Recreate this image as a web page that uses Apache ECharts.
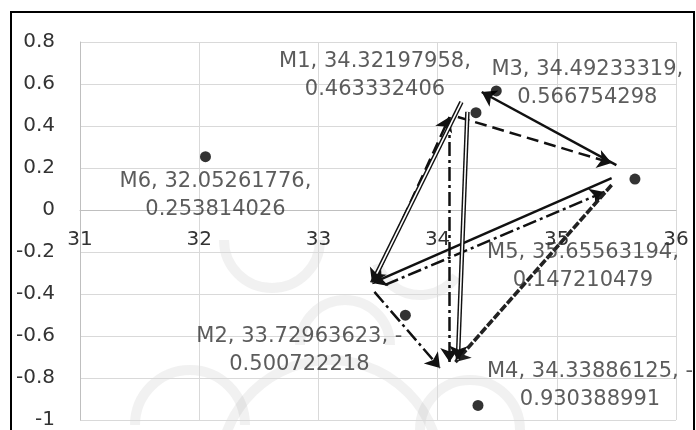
<!DOCTYPE html>
<html><head><meta charset="utf-8">
<script src="https://cdn.jsdelivr.net/npm/echarts@6/dist/echarts.min.js"></script>
<style>html,body{margin:0;padding:0;background:#fff}#c{width:696px;height:430px}</style>
</head><body><div id="c"></div>
<script>
// ---- data ----
const pointNames = ['M1', 'M2', 'M3', 'M4', 'M5', 'M6'];
const xValues = [34.32197958, 33.72963623, 34.49233319, 34.33886125, 35.65563194, 32.05261776];
const yValues = [0.463332406, -0.500722218, 0.566754298, -0.930388991, 0.147210479, 0.253814026];
const xTicks = [31, 32, 33, 34, 35, 36];
const yTicks = [-1, -0.8, -0.6, -0.4, -0.2, 0, 0.2, 0.4, 0.6, 0.8];

// arrows drawn over the chart (start -> end, in data units)
const solidArrows = [
  [[35.50, 0.214], [34.37, 0.562]],
  [[35.46, 0.152], [33.45, -0.348]]
];
const dashedArrows = [
  [[34.17, 0.443], [35.46, 0.224]],
  [[33.52, -0.276], [34.10, 0.443]]
];
const dashDotArrows = [
  [[34.10, 0.443], [34.10, -0.724]],
  [[33.56, -0.357], [35.40, 0.086]],
  [[33.47, -0.390], [34.02, -0.752]]
];
const doubleArrows = [
  [[34.20, 0.514], [33.45, -0.348]],
  [[34.25, 0.467], [34.17, -0.714]]
];
const thickArrows = [
  [[35.46, 0.119], [34.15, -0.724]]
];

// ---- layout / style ----
const FONT = 'DejaVu Sans';
const TXT = '#333333';
const labelOffsets = [[-101, -37], [-106, 35], [91, -7], [112, -20], [-52, 87], [10, 39]];

function labelText(i) {
  const y = yValues[i];
  return y < 0
    ? pointNames[i] + ', ' + xValues[i] + ', -\n' + (-y)
    : pointNames[i] + ', ' + xValues[i] + ',\n' + y;
}

function linesSeries(links, lineStyle, arrow) {
  return {
    type: 'lines', coordinateSystem: 'cartesian2d', silent: true, animation: false,
    symbol: arrow ? ['none', 'arrow'] : 'none', symbolSize: 14,
    lineStyle: Object.assign({ opacity: 1, curveness: 0 }, lineStyle),
    data: links.map(l => ({ coords: l })), z: 3
  };
}

// faint background watermark (decorative arcs)
const WM = { stroke: 'rgba(120,120,120,0.10)', lineWidth: 10, fill: 'none' };
function wmArc(cx, cy, r, a0, a1) {
  return { type: 'arc', silent: true, z: -10, shape: { cx: cx, cy: cy, r: r, startAngle: a0, endAngle: a1 }, style: WM };
}
const PI = Math.PI;

const plotTop = 42, plotBottom = 10, plotH = 430 - plotTop - plotBottom;
const zeroFromBottom = plotH * (0 - yTicks[0]) / (yTicks[yTicks.length - 1] - yTicks[0]);

const chart = echarts.init(document.getElementById('c'));
chart.setOption({
  animation: false,
  backgroundColor: '#fff',
  grid: { left: 80, right: 20, top: plotTop, bottom: plotBottom, containLabel: false, outerBoundsMode: 'none' },
  xAxis: {
    type: 'value', min: xTicks[0], max: xTicks[xTicks.length - 1], interval: 1,
    position: 'bottom', offset: -zeroFromBottom,
    axisLine: { show: true, onZero: false, lineStyle: { color: '#bfbfbf', width: 1 } },
    axisTick: { show: false },
    axisLabel: { color: TXT, fontSize: 20, fontFamily: FONT, margin: 20 },
    splitLine: { show: true, lineStyle: { color: '#d9d9d9', width: 1 } }
  },
  yAxis: {
    type: 'value', min: yTicks[0], max: yTicks[yTicks.length - 1], interval: 0.2,
    axisLine: { show: true, onZero: false, lineStyle: { color: '#bfbfbf', width: 1 } },
    axisTick: { show: false },
    axisLabel: { color: TXT, fontSize: 20, fontFamily: FONT, margin: 25 },
    splitLine: { show: true, lineStyle: { color: '#d9d9d9', width: 1 } }
  },
  graphic: [
    wmArc(272, 240, 48, 0, PI),
    wmArc(345, 345, 45, PI, 2 * PI),
    wmArc(190, 425, 55, PI, 2 * PI),
    wmArc(470, 430, 50, PI, 2 * PI),
    wmArc(420, 250, 45, 0.2 * PI, 0.9 * PI),
    wmArc(330, 470, 110, 1.1 * PI, 1.9 * PI),
    { type: 'rect', silent: true, z: 100,
      shape: { x: 11, y: 12, width: 683, height: 440 },
      style: { fill: 'none', stroke: '#000', lineWidth: 2 } }
  ],
  series: [
    linesSeries(dashedArrows, { color: '#111', width: 2.5, type: [12, 6] }, true),
    linesSeries(dashDotArrows, { color: '#111', width: 2.5, type: [14, 4, 3, 4] }, true),
    linesSeries(solidArrows, { color: '#111', width: 2.5 }, true),
    linesSeries(thickArrows, { color: '#222', width: 3.5, type: [8, 2] }, true),
    linesSeries(doubleArrows, { color: '#111', width: 4.5 }, false),
    linesSeries(doubleArrows, { color: '#fff', width: 1.6 }, false),
    linesSeries(doubleArrows, { color: '#111', width: 0.01 }, true),
    {
      type: 'scatter', symbol: 'circle', symbolSize: 11, z: 4,
      itemStyle: { color: '#000' },
      data: xValues.map((x, i) => ({
        value: [x, yValues[i]],
        label: {
          show: true, position: 'inside', offset: labelOffsets[i],
          formatter: labelText(i), align: 'center', verticalAlign: 'middle',
          color: TXT, fontSize: 21, fontFamily: FONT, lineHeight: 28
        }
      }))
    }
  ]
});
</script>
</body></html>
